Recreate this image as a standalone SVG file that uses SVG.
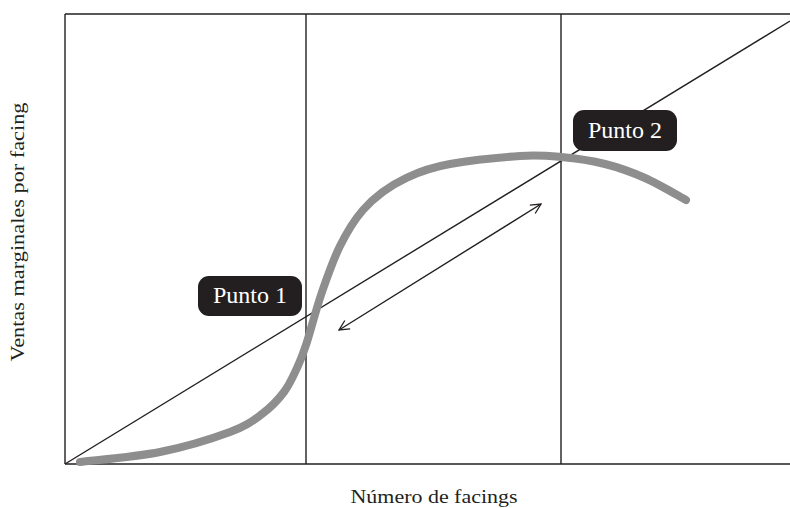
<svg xmlns="http://www.w3.org/2000/svg" width="790" height="508" viewBox="0 0 790 508">
<style>
.ln{stroke:#231f20;stroke-width:1.4;fill:none}
.curve{stroke:#8e8e8e;stroke-width:8;fill:none;stroke-linecap:round;stroke-linejoin:round}
.box{fill:#231f20}
.lbl{font-family:"Liberation Serif","DejaVu Serif",serif;fill:#ffffff;font-size:24px;text-anchor:middle}
.axis{font-family:"Liberation Serif","DejaVu Serif",serif;fill:#231f20;font-size:19px;text-anchor:middle}
</style>
<defs>
<marker id="arr" viewBox="0 0 12 12" refX="11" refY="6" markerWidth="12" markerHeight="12" markerUnits="userSpaceOnUse" orient="auto-start-reverse">
<path d="M1,1 L11,6 L1,11" fill="none" stroke="#231f20" stroke-width="1.3"/>
</marker>
</defs>
<g id="frame">
<line class="ln" x1="65" y1="14" x2="790" y2="14"/>
<line class="ln" x1="65" y1="14" x2="65" y2="464"/>
<line class="ln" x1="65" y1="464" x2="790" y2="464"/>
<line class="ln" x1="306" y1="14" x2="306" y2="464"/>
<line class="ln" x1="561" y1="14" x2="561" y2="464"/>
</g>
<g id="connectors">
<line id="diagonal" class="ln" x1="65" y1="464" x2="790" y2="21"/>
<path id="sales-curve" class="curve" d="M80,462 C93.3,460.3 135,457 160,452 C185,447 213,438.3 230,432 C247,425.7 253,420.7 262,414 C271,407.3 278.2,399.7 284,392 C289.8,384.3 293.3,375.8 297,368 C300.7,360.2 301.8,357.7 306,345 C310.2,332.3 316.3,308.5 322,292 C327.7,275.5 333.2,259.7 340,246 C346.8,232.3 353,221.5 363,210 C388,181 425,168.4 450,164 C470,160.5 501.5,157.2 520,156 C538.5,154.8 546.8,155.7 561,157 C575.2,158.3 591,160.5 605,164 C619,167.5 631.5,172 645,178 C658.5,184 679.2,196.3 686,200"/>
<line id="range-arrow" class="ln" x1="339" y1="330" x2="541" y2="204" stroke-width="1.3" marker-start="url(#arr)" marker-end="url(#arr)"/>
</g>
<g id="punto1">
<rect class="box" x="198" y="276" width="104" height="40" rx="11"/>
<text class="lbl" x="250" y="303">Punto 1</text>
</g>
<g id="punto2">
<rect class="box" x="573" y="110" width="104" height="41" rx="11"/>
<text class="lbl" x="625" y="138">Punto 2</text>
</g>
<g id="x-label">
<text class="axis" x="434" y="503" textLength="167" lengthAdjust="spacingAndGlyphs">Número de facings</text>
</g>
<g id="y-label">
<text class="axis" transform="translate(24,232) rotate(-90)" x="0" y="0" textLength="259" lengthAdjust="spacingAndGlyphs">Ventas marginales por facing</text>
</g>
</svg>
